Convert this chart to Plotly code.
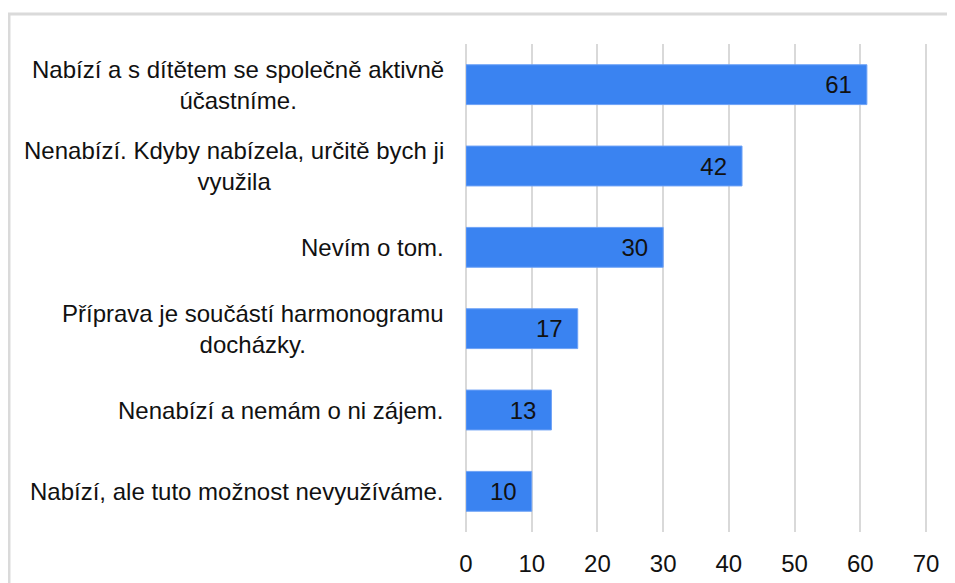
import plotly.graph_objects as go

answers = [
    "Nabízí a s dítětem se společně aktivně<br>účastníme.",
    "Nenabízí. Kdyby nabízela, určitě bych ji<br>využila",
    "Nevím o tom.",
    "Příprava je součástí harmonogramu<br>docházky.",
    "Nenabízí a nemám o ni zájem.",
    "Nabízí, ale tuto možnost nevyužíváme.",
]
counts = [61, 42, 30, 17, 13, 10]
x_ticks = [0, 10, 20, 30, 40, 50, 60, 70]

FONT = "Liberation Sans, Arial, sans-serif"

fig = go.Figure()
fig.add_trace(go.Bar(
    x=counts,
    y=answers,
    orientation="h",
    width=0.49,
    marker=dict(color="#3a83f1", line=dict(color="#6ea2f6", width=1)),
    texttemplate="%{x}\u2002",
    textposition="inside",
    insidetextanchor="end",
    textfont=dict(family=FONT, size=24, color="#111111"),
    hoverinfo="x+y",
))

# category labels, centred like the original
for a in answers:
    fig.add_annotation(
        x=0, xref="paper", y=a, yref="y",
        text=a, showarrow=False, xanchor="right", xshift=-20,
        align="center", font=dict(family=FONT, size=24, color="#111111"),
    )

# outer frame of the chart
fig.add_shape(type="rect", xref="paper", yref="paper",
              x0=-0.9892, x1=1.5, y0=-0.5, y1=1.0615,
              line=dict(color="#dadada", width=3), layer="below")

fig.update_layout(
    width=955, height=583,
    margin=dict(l=458, r=35, t=36, b=59),
    paper_bgcolor="white", plot_bgcolor="white",
    showlegend=False,
    font=dict(family=FONT, size=24, color="#111111"),
    bargap=0.5,
)
fig.update_xaxes(range=[0, 70.3], tickvals=x_ticks, showgrid=True,
                 gridcolor="#d9d9d9", gridwidth=2, zeroline=True,
                 zerolinecolor="#d9d9d9", zerolinewidth=2,
                 ticklabelstandoff=15,
                 tickfont=dict(family=FONT, size=24, color="#111111"))
fig.update_yaxes(autorange="reversed", showticklabels=False, showgrid=False)

fig.write_html("out.html")
